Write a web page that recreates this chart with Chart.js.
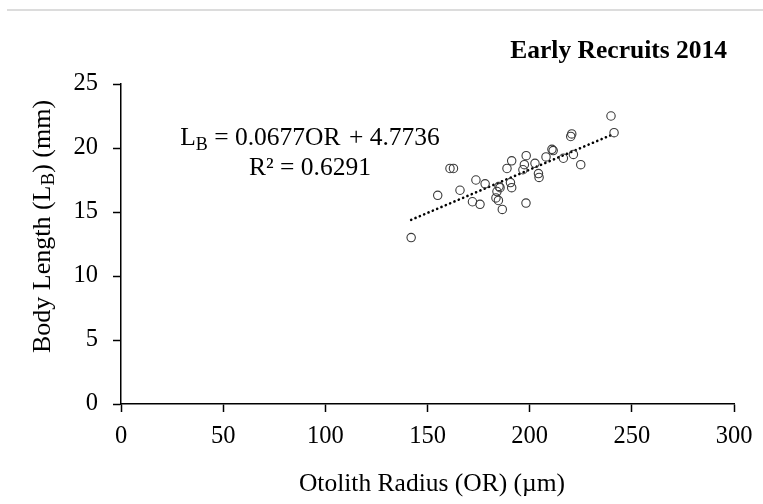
<!DOCTYPE html>
<html>
<head>
<meta charset="utf-8">
<title>Early Recruits 2014</title>
<script src="https://cdn.jsdelivr.net/npm/chart.js@4.4.1/dist/chart.umd.min.js"></script>
<style>
  html, body { margin: 0; padding: 0; background: #fff; }
  #wrap { width: 763px; height: 504px; position: relative; }
</style>
</head>
<body>
<div id="wrap"><canvas id="recruitsChart"></canvas></div>
<script>
// Otolith radius (µm) and body length (mm) for each early recruit
const radius = [
    142, 155, 161, 162.7, 165.9, 172, 173.7, 175.7, 178.2, 183.5,
    184.7, 184, 185, 185.5, 186.6, 188.9, 191.2, 190.6, 191.2, 196.7,
    197.4, 198.3, 198.2, 202.6, 204.3, 204.6, 208, 210.9, 211.5, 216.5,
    220.1, 220.6, 221.4, 225, 239.8, 241.3
];
const bodyLength = [
    13.0, 16.3, 18.4, 18.4, 16.7, 15.8, 17.5, 15.6, 17.2, 16.1,
    15.9, 16.6, 17.0, 16.9, 15.2, 18.4, 19.0, 17.3, 16.9, 18.3,
    18.7, 19.4, 15.7, 18.8, 18.0, 17.7, 19.3, 19.9, 19.8, 19.2,
    20.9, 21.1, 19.5, 18.7, 22.5, 21.2
];

// Linear fit LB = slope * OR + intercept
const slope = 0.0677;
const intercept = 4.7736;
const rSquared = 0.6291;

const xTicks = [0, 50, 100, 150, 200, 250, 300];
const yTicks = [0, 5, 10, 15, 20, 25];

const SERIF = "'Liberation Serif', 'Times New Roman', serif";

const points = radius.map((r, i) => ({ x: r, y: bodyLength[i] }));
const xMin = Math.min(...radius);
const xMax = Math.max(...radius);
const trend = [xMin, xMax].map(x => ({ x: x, y: slope * x + intercept }));

// Draw a run of text pieces, some of them as subscripts
function drawRich(ctx, parts, x, y, size, align) {
    const subSize = Math.round(size * 0.72);
    const widths = parts.map(p => {
        ctx.font = (p.sub ? subSize : size) + 'px ' + SERIF;
        return ctx.measureText(p.text).width;
    });
    const total = widths.reduce((a, b) => a + b, 0);
    let cx = align === 'center' ? x - total / 2 : x;
    ctx.textAlign = 'left';
    ctx.textBaseline = 'alphabetic';
    parts.forEach((p, i) => {
        ctx.font = (p.sub ? subSize : size) + 'px ' + SERIF;
        ctx.fillText(p.text, cx, p.sub ? y + size * 0.16 : y);
        cx += widths[i];
    });
}

const labelsPlugin = {
    id: 'labels',
    afterDraw(chart) {
        const ctx = chart.ctx;
        const xs = chart.scales.x;
        const ys = chart.scales.y;
        ctx.save();
        ctx.fillStyle = '#000';

        // thin rule across the top
        ctx.strokeStyle = '#d0d0d0';
        ctx.lineWidth = 1.5;
        ctx.beginPath();
        ctx.moveTo(7, 10);
        ctx.lineTo(763, 10);
        ctx.stroke();

        // title
        ctx.font = 'bold 25.5px ' + SERIF;
        ctx.textAlign = 'right';
        ctx.textBaseline = 'alphabetic';
        ctx.fillText('Early Recruits 2014', 727, 58);

        // x axis title
        ctx.font = '25.5px ' + SERIF;
        ctx.textAlign = 'center';
        ctx.fillText('Otolith Radius (OR) (µm)', 432, 491);

        // y axis title, rotated
        ctx.save();
        ctx.translate(49.5, 226.5);
        ctx.rotate(-Math.PI / 2);
        drawRich(ctx, [
            { text: 'Body Length (L' },
            { text: 'B', sub: true },
            { text: ') (mm)' }
        ], 0, 0, 26, 'center');
        ctx.restore();

        // regression equation
        const eqX = xs.getPixelForValue(92.5);
        drawRich(ctx, [
            { text: 'L' },
            { text: 'B', sub: true },
            { text: ' = ' + slope + 'OR \u200a+ ' + intercept }
        ], eqX, ys.getPixelForValue(20.2), 25.5, 'center');
        ctx.font = '25.5px ' + SERIF;
        ctx.textAlign = 'center';
        ctx.fillText('R² = ' + rSquared, eqX, ys.getPixelForValue(17.9));

        ctx.restore();
    }
};

const axisCommon = {
    grid: { display: true, drawOnChartArea: false, drawTicks: true, tickLength: 8, tickWidth: 1.5, tickColor: '#000' },
    border: { display: true, color: '#000', width: 1.5 },
    ticks: { color: '#000', font: { family: SERIF, size: 24.5 } }
};

new Chart(document.getElementById('recruitsChart'), {
    type: 'scatter',
    data: {
        datasets: [
            {
                label: 'Early Recruits',
                data: points,
                pointStyle: 'circle',
                pointRadius: 4.2,
                pointBorderWidth: 1.1,
                pointBorderColor: '#3a3a3a',
                pointBackgroundColor: 'rgba(255,255,255,0)',
                showLine: false
            },
            {
                label: 'Linear fit',
                type: 'line',
                data: trend,
                borderColor: '#000',
                borderWidth: 2.6,
                borderDash: [0.1, 4.6],
                borderCapStyle: 'round',
                pointRadius: 0,
                fill: false
            }
        ]
    },
    options: {
        responsive: true,
        maintainAspectRatio: false,
        animation: false,
        layout: { padding: { left: 0, right: 29, top: 84, bottom: 0 } },
        plugins: {
            legend: { display: false },
            tooltip: { enabled: false }
        },
        scales: {
            x: {
                type: 'linear',
                min: 0,
                max: 300,
                ...axisCommon,
                ticks: { ...axisCommon.ticks, padding: 10 },
                afterBuildTicks: s => { s.ticks = xTicks.map(v => ({ value: v })); },
                afterFit: s => { s.height = 100; }
            },
            y: {
                type: 'linear',
                min: 0,
                max: 25,
                ...axisCommon,
                ticks: { ...axisCommon.ticks, padding: 15 },
                afterBuildTicks: s => { s.ticks = yTicks.map(v => ({ value: v })); },
                afterFit: s => { s.width = 121; }
            }
        }
    },
    plugins: [labelsPlugin]
});
</script>
</body>
</html>
